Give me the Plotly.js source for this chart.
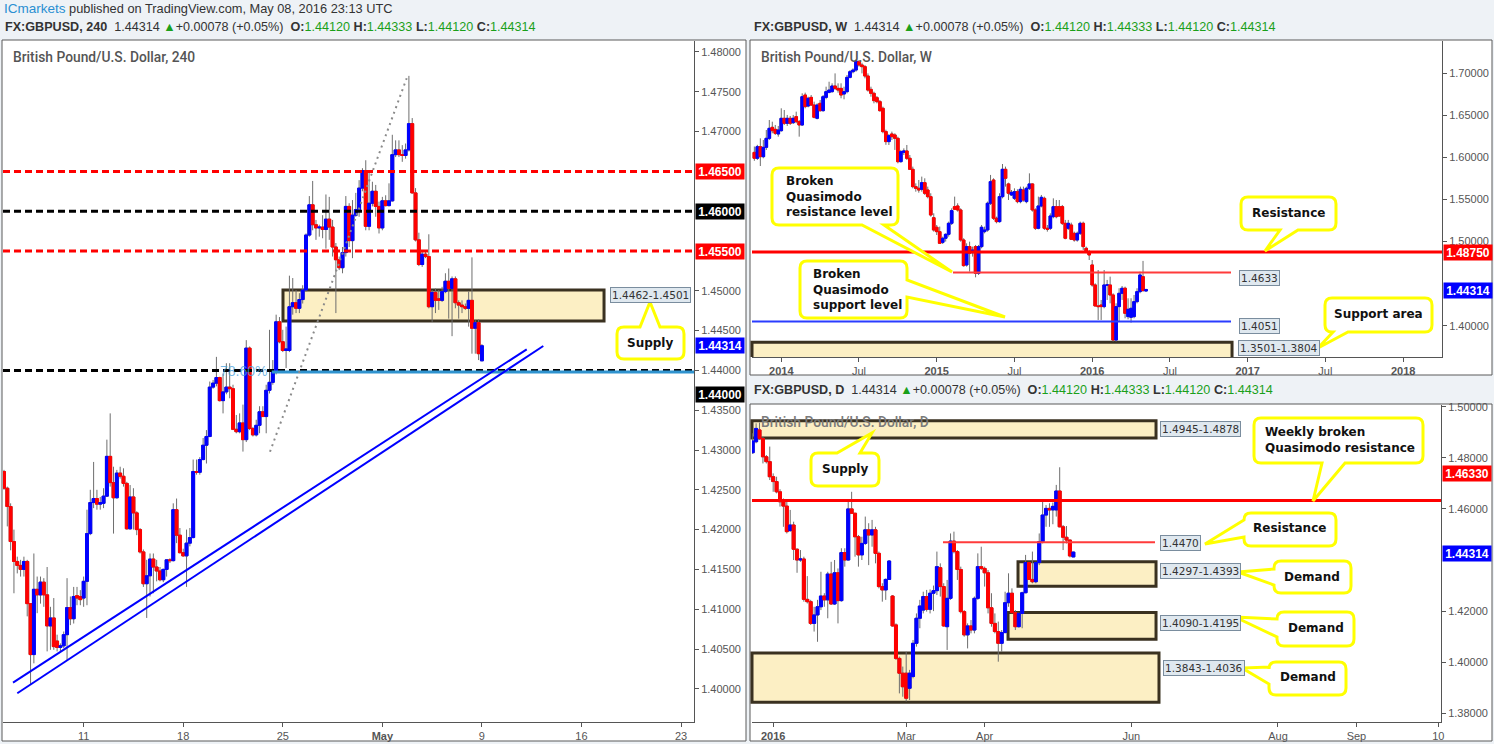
<!DOCTYPE html>
<html><head><meta charset="utf-8">
<script src="https://cdn.plot.ly/plotly-3.0.1.min.js"></script>
<style>html,body{margin:0;padding:0;background:#eef2f6;overflow:hidden}#chart{width:1494px;height:744px}</style>
</head><body><div id="chart"></div>
<script>
// ---------------- DATA ----------------
// 4-hour GBPUSD candles
const h4Open = [1.4273,1.4252,1.4229,1.4185,1.4160,1.4155,1.4150,1.4160,1.4107,1.4043,
1.4125,1.4118,1.4134,1.4118,1.4079,1.4089,1.4060,1.4052,1.4054,1.4068,
1.4102,1.4088,1.4117,1.4116,1.4114,1.4135,1.4195,1.4234,1.4239,1.4232,
1.4233,1.4242,1.4292,1.4259,1.4240,1.4271,1.4267,1.4258,1.4201,1.4241,
1.4221,1.4200,1.4172,1.4132,1.4142,1.4163,1.4153,1.4148,1.4137,1.4150,
1.4162,1.4161,1.4225,1.4193,1.4171,1.4167,1.4183,1.4190,1.4273,1.4272,
1.4288,1.4306,1.4317,1.4379,1.4384,1.4391,1.4362,1.4373,1.4379,1.4377,
1.4326,1.4323,1.4334,1.4313,1.4428,1.4327,1.4319,1.4331,1.4348,1.4342,
1.4375,1.4385,1.4398,
1.4461,1.4436,1.4425,1.4425,1.4480,1.4485,1.4478,1.4489,1.4501,1.4570,
1.4608,1.4583,1.4579,1.4580,1.4577,1.4590,1.4580,1.4555,1.4539,1.4529,
1.4548,1.4606,1.4563,1.4595,1.4602,1.4629,1.4651,1.4581,1.4610,1.4625,
1.4606,
1.4579,1.4613,1.4607,1.4613,1.4671,1.4677,1.4671,1.4670,1.4677,1.4710,
1.4623,1.4564,1.4533,1.4546,1.4543,1.4480,1.4498,1.4490,1.4488,1.4499,
1.4512,1.4503,1.4515,1.4485,1.4482,1.4480,1.4478,1.4488,1.4453,1.4460,1.4412];
const h4High = [1.4275,1.4254,1.4233,1.4200,1.4166,1.4162,1.4166,1.4162,1.4107,1.4170,
1.4141,1.4141,1.4139,1.4153,1.4103,1.4114,1.4068,1.4057,1.4072,1.4139,
1.4116,1.4128,1.4128,1.4124,1.4141,1.4225,1.4250,1.4285,1.4250,1.4241,
1.4252,1.4313,1.4346,1.4279,1.4275,1.4279,1.4277,1.4260,1.4256,1.4252,
1.4223,1.4202,1.4175,1.4162,1.4170,1.4170,1.4162,1.4153,1.4151,1.4162,
1.4164,1.4233,1.4239,1.4202,1.4176,1.4200,1.4202,1.4288,1.4288,1.4291,
1.4315,1.4325,1.4386,1.4388,1.4417,1.4392,1.4396,1.4409,1.4409,1.4382,
1.4344,1.4346,1.4357,1.4438,1.4430,1.4329,1.4338,1.4355,1.4355,1.4382,
1.4451,1.4413,1.4470,
1.4467,1.4451,1.4455,1.4519,1.4516,1.4501,1.4497,1.4507,1.4572,1.4619,
1.4638,1.4589,1.4583,1.4595,1.4621,1.4618,1.4589,1.4560,1.4543,1.4555,
1.4619,1.4610,1.4614,1.4623,1.4639,1.4654,1.4664,1.4648,1.4637,1.4633,
1.4612,
1.4618,1.4620,1.4635,1.4696,1.4689,1.4689,1.4683,1.4685,1.4770,1.4717,
1.4629,1.4573,1.4549,1.4549,1.4571,1.4501,1.4503,1.4501,1.4505,1.4522,
1.4528,1.4518,1.4518,1.4488,1.4488,1.4484,1.4499,1.4542,1.4463,1.4464,1.4433];
const h4Low = [1.4250,1.4204,1.4174,1.4120,1.4145,1.4141,1.4141,1.4091,1.4005,1.4032,
1.4095,1.4107,1.4103,1.4047,1.4049,1.4049,1.4047,1.4047,1.4051,1.4036,
1.4080,1.4082,1.4105,1.4105,1.4103,1.4105,1.4193,1.4227,1.4225,1.4225,
1.4227,1.4241,1.4254,1.4195,1.4239,1.4264,1.4254,1.4200,1.4200,1.4200,
1.4193,1.4170,1.4128,1.4089,1.4116,1.4120,1.4135,1.4135,1.4134,1.4141,
1.4158,1.4160,1.4183,1.4170,1.4166,1.4128,1.4179,1.4189,1.4269,1.4269,
1.4287,1.4283,1.4316,1.4377,1.4380,1.4361,1.4346,1.4370,1.4365,1.4325,
1.4321,1.4321,1.4298,1.4310,1.4325,1.4317,1.4317,1.4321,1.4342,1.4321,
1.4371,1.4382,1.4395,
1.4434,1.4423,1.4403,1.4423,1.4470,1.4472,1.4472,1.4484,1.4499,1.4568,
1.4576,1.4564,1.4568,1.4566,1.4553,1.4564,1.4543,1.4472,1.4526,1.4522,
1.4543,1.4555,1.4541,1.4593,1.4593,1.4625,1.4576,1.4576,1.4606,1.4593,
1.4572,
1.4576,1.4606,1.4606,1.4612,1.4668,1.4668,1.4662,1.4666,1.4675,1.4622,
1.4562,1.4531,1.4530,1.4541,1.4478,1.4461,1.4472,1.4476,1.4486,1.4497,
1.4465,1.4443,1.4478,1.4465,1.4472,1.4476,1.4455,1.4421,1.4421,1.4413,1.4412];
const h4Close = [1.4252,1.4229,1.4185,1.4160,1.4155,1.4150,1.4160,1.4107,1.4043,1.4125,
1.4118,1.4134,1.4118,1.4079,1.4089,1.4053,1.4052,1.4054,1.4068,1.4102,
1.4088,1.4116,1.4114,1.4112,1.4135,1.4195,1.4234,1.4239,1.4232,1.4234,
1.4242,1.4292,1.4259,1.4240,1.4271,1.4267,1.4258,1.4201,1.4241,1.4221,
1.4200,1.4172,1.4132,1.4142,1.4163,1.4153,1.4148,1.4137,1.4150,1.4162,
1.4161,1.4225,1.4193,1.4171,1.4167,1.4183,1.4190,1.4273,1.4272,1.4288,
1.4306,1.4317,1.4379,1.4384,1.4391,1.4362,1.4373,1.4379,1.4377,1.4326,
1.4323,1.4334,1.4313,1.4428,1.4327,1.4319,1.4331,1.4348,1.4342,1.4375,
1.4385,1.4398,1.4461,
1.4436,1.4425,1.4427,1.4480,1.4485,1.4478,1.4489,1.4501,1.4570,1.4608,
1.4583,1.4579,1.4580,1.4577,1.4590,1.4580,1.4555,1.4539,1.4529,1.4548,
1.4606,1.4563,1.4595,1.4602,1.4629,1.4651,1.4581,1.4610,1.4625,1.4606,
1.4579,
1.4613,1.4607,1.4613,1.4671,1.4677,1.4671,1.4670,1.4677,1.4710,1.4623,
1.4564,1.4533,1.4546,1.4543,1.4480,1.4498,1.4488,1.4488,1.4499,1.4512,
1.4503,1.4515,1.4485,1.4482,1.4480,1.4478,1.4488,1.4453,1.4460,1.4421,1.4431];
const h4TickBars = [24, 54, 84, 114, 144, 174, 204];
const h4TickLabels = ['11', '18', '25', '<b>May</b>', '9', '16', '23'];

// Weekly GBPUSD candles (last bar = week of 2016-05-09)
const wLastWeek = '2016-05-09';
const wOpen = [1.6060,1.5990,
1.6128,1.6009,1.6120,1.6227,1.6358,1.6334,1.6279,1.6318,1.6465,1.6406,
1.6465,1.6413,1.6485,1.6425,1.6386,1.6742,1.6611,1.6714,1.6623,1.6465,
1.6643,1.6556,1.6714,1.6774,1.6782,1.6849,1.6821,1.6821,1.6754,1.6782,
1.6952,1.7019,1.7039,1.7138,1.7099,1.7079,1.6968,1.6809,1.6762,1.6710,
1.6663,1.6584,1.6307,1.6188,1.6279,1.6267,1.6227,1.5950,1.6061,1.6077,1.5990,
1.5859,1.5653,1.5633,1.5621,1.5700,1.5613,1.5534,1.5284,1.5170,1.5118,
1.4991,1.5039,1.5086,1.5217,1.5415,1.5423,1.5376,1.5019,1.4722,1.4940,1.4868,
1.4940,1.4623,1.4940,1.5118,1.5138,1.5455,1.5732,1.5277,1.5237,1.5534,
1.5859,1.5685,1.5554,1.5514,1.5593,1.5475,1.5613,1.5475,1.5633,1.5685,
1.5376,1.5158,1.5423,1.5514,1.5158,1.5158,1.5296,1.5415,1.5415,1.5415,
1.5217,1.5158,1.5197,1.5098,1.5019,1.5098,1.5217,1.4920,1.4880,1.4722,
1.4484,1.4235,1.4246,1.4227,1.4484,1.4484,1.4365,1.3830,1.4227,1.4385,
1.4445,1.4108,1.4100,1.4108,1.4286,1.4405,1.4583,1.4412];
const wHigh = [1.6130,1.6150,
1.6227,1.6207,1.6326,1.6445,1.6425,1.6386,1.6374,1.6584,1.6564,1.6505,
1.6493,1.6505,1.6544,1.6445,1.6762,1.6770,1.6722,1.6742,1.6663,1.6643,
1.6683,1.6742,1.6841,1.6900,1.6881,1.6999,1.6881,1.6881,1.6841,1.6980,
1.7039,1.7059,1.7166,1.7158,1.7126,1.7099,1.6999,1.6841,1.6782,1.6730,
1.6683,1.6604,1.6330,1.6279,1.6307,1.6287,1.6247,1.6089,1.6108,1.6148,1.6029,
1.5891,1.5692,1.5732,1.5772,1.5752,1.5653,1.5574,1.5336,1.5197,1.5178,
1.5059,1.5098,1.5237,1.5395,1.5534,1.5455,1.5395,1.5039,1.4979,1.4999,1.4940,
1.4960,1.4960,1.5197,1.5178,1.5475,1.5792,1.5752,1.5296,1.5574,1.5922,
1.5891,1.5700,1.5613,1.5633,1.5621,1.5653,1.5653,1.5653,1.5811,1.5692,
1.5395,1.5534,1.5554,1.5534,1.5197,1.5336,1.5514,1.5494,1.5494,1.5435,
1.5257,1.5257,1.5225,1.5118,1.5118,1.5237,1.5237,1.4940,1.4900,1.4781,
1.4504,1.4662,1.4306,1.4662,1.4544,1.4583,1.4385,1.4266,1.4445,1.4472,
1.4464,1.4326,1.4326,1.4365,1.4445,1.4643,1.4770,1.4433];
const wLow = [1.5960,1.5970,
1.5898,1.5990,1.6089,1.6207,1.6287,1.6267,1.6247,1.6307,1.6386,1.6374,
1.6386,1.6398,1.6406,1.6247,1.6374,1.6584,1.6596,1.6611,1.6465,1.6453,
1.6544,1.6544,1.6691,1.6762,1.6770,1.6801,1.6770,1.6703,1.6691,1.6762,
1.6940,1.6999,1.7019,1.7079,1.6999,1.6940,1.6782,1.6722,1.6643,1.6643,
1.6544,1.6287,1.6150,1.6148,1.6207,1.6089,1.5930,1.5938,1.6029,1.5970,1.5851,
1.5633,1.5593,1.5581,1.5593,1.5554,1.5514,1.5296,1.5118,1.5078,1.4971,
1.4971,1.5000,1.5059,1.5197,1.5376,1.5356,1.4999,1.4702,1.4702,1.4643,1.4821,
1.4575,1.4603,1.4920,1.5098,1.5118,1.5435,1.5257,1.5217,1.5225,1.5514,
1.5653,1.5494,1.5542,1.5494,1.5455,1.5455,1.5475,1.5455,1.5613,1.5356,
1.5138,1.5146,1.5407,1.5138,1.5118,1.5138,1.5277,1.5277,1.5296,1.5197,
1.5027,1.5138,1.5019,1.4999,1.4999,1.5078,1.4900,1.4861,1.4781,1.4464,
1.4227,1.4068,1.4068,1.4207,1.4306,1.4266,1.3811,1.3811,1.4048,1.4306,
1.4088,1.4076,1.4036,1.4088,1.4266,1.4385,1.4405,1.4412];
const wClose = [1.5990,1.6128,
1.6009,1.6120,1.6227,1.6346,1.6318,1.6287,1.6326,1.6465,1.6406,1.6465,
1.6406,1.6465,1.6425,1.6386,1.6722,1.6604,1.6703,1.6623,1.6477,1.6623,
1.6556,1.6722,1.6782,1.6801,1.6849,1.6821,1.6801,1.6742,1.6782,1.6952,
1.7019,1.7039,1.7146,1.7099,1.7079,1.6968,1.6801,1.6762,1.6675,1.6663,
1.6556,1.6307,1.6188,1.6259,1.6247,1.6227,1.5950,1.6069,1.6077,1.5990,1.5859,
1.5653,1.5633,1.5613,1.5700,1.5574,1.5534,1.5316,1.5138,1.5118,1.4979,
1.5039,1.5086,1.5217,1.5368,1.5384,1.5376,1.5019,1.4714,1.4940,1.4861,1.4900,
1.4623,1.4940,1.5170,1.5138,1.5455,1.5712,1.5277,1.5237,1.5534,1.5859,
1.5752,1.5574,1.5585,1.5593,1.5475,1.5621,1.5494,1.5633,1.5685,1.5376,
1.5158,1.5423,1.5526,1.5158,1.5146,1.5304,1.5415,1.5296,1.5304,1.5217,
1.5039,1.5217,1.5027,1.5019,1.5098,1.5217,1.4940,1.4880,1.4841,1.4484,
1.4235,1.4227,1.4227,1.4484,1.4484,1.4365,1.3830,1.4227,1.4385,1.4445,
1.4147,1.4195,1.4207,1.4286,1.4405,1.4603,1.4417,1.4431];
const wTickDates = ['2014-01-06','2014-07-07','2015-01-05','2015-07-06','2016-01-04','2016-07-04','2017-01-02','2017-07-03','2018-01-01'];
const wTickLabels = ['<b>2014</b>','Jul','<b>2015</b>','Jul','<b>2016</b>','Jul','<b>2017</b>','Jul','<b>2018</b>'];

// Daily GBPUSD candles (last bar = 2016-05-09)
const dLastDay = '2016-05-09';
const dOpen = [1.4820,1.4863,1.4909,1.4876,1.4804,1.4785,1.4726,1.4707,1.4667,1.4628,
1.4611,1.4515,1.4537,1.4442,1.4400,1.4404,1.4246,1.4237,1.4152,1.4185,
1.4217,1.4259,1.4244,1.4345,1.4228,1.4350,1.4241,1.4429,1.4400,1.4600,
1.4583,1.4491,1.4420,1.4465,1.4518,1.4498,1.4518,1.4426,1.4296,1.4283,
1.4324,1.4259,1.4146,1.4015,1.3957,1.3957,1.3898,1.3944,1.4074,1.4172,
1.4204,1.4257,1.4207,1.4270,1.4280,1.4370,1.4296,1.4139,1.4250,1.4474,1.4433,
1.4363,1.4198,1.4107,1.4142,1.4126,1.4250,1.4374,1.4367,1.4350,1.4213,
1.4152,1.4120,1.4074,1.4116,1.4233,1.4270,1.4194,1.4139,1.4191,1.4272,
1.4390,1.4324,1.4315,1.4390,1.4472,1.4576,1.4602,1.4596,1.4596,1.4670,1.4530,
1.4489,1.4478,1.4412];
const dHigh = [1.4896,1.4935,1.4938,1.4883,1.4811,1.4844,1.4739,1.4726,1.4677,1.4641,
1.4628,1.4596,1.4550,1.4446,1.4439,1.4413,1.4337,1.4244,1.4217,1.4244,
1.4354,1.4270,1.4354,1.4393,1.4400,1.4367,1.4446,1.4446,1.4628,1.4667,
1.4585,1.4498,1.4491,1.4570,1.4544,1.4557,1.4530,1.4433,1.4309,1.4328,
1.4400,1.4263,1.4152,1.4022,1.3983,1.4041,1.3970,1.4087,1.4191,1.4244,
1.4276,1.4283,1.4285,1.4300,1.4433,1.4387,1.4309,1.4322,1.4504,1.4511,1.4439,
1.4374,1.4204,1.4152,1.4165,1.4257,1.4426,1.4452,1.4374,1.4361,1.4270,
1.4191,1.4159,1.4126,1.4276,1.4348,1.4289,1.4204,1.4194,1.4276,1.4420,
1.4393,1.4433,1.4393,1.4504,1.4635,1.4615,1.4622,1.4625,1.4694,1.4763,1.4537,
1.4533,1.4480,1.4433];
const dLow = [1.4815,1.4857,1.4870,1.4778,1.4778,1.4713,1.4667,1.4661,1.4609,1.4530,
1.4504,1.4511,1.4400,1.4350,1.4393,1.4237,1.4230,1.4146,1.4120,1.4080,
1.4204,1.4217,1.4172,1.4224,1.4224,1.4152,1.4237,1.4374,1.4398,1.4580,
1.4413,1.4374,1.4400,1.4459,1.4380,1.4452,1.4387,1.4289,1.4237,1.4244,
1.4322,1.4139,1.4009,1.3878,1.3865,1.3846,1.3852,1.3937,1.4061,1.4133,
1.4191,1.4198,1.4191,1.4200,1.4263,1.4257,1.4139,1.4048,1.4244,1.4426,1.4322,
1.4191,1.4100,1.4054,1.4113,1.4113,1.4244,1.4361,1.4296,1.4191,1.4139,
1.4113,1.4002,1.4041,1.4113,1.4217,1.4191,1.4126,1.4136,1.4133,1.4270,
1.4322,1.4309,1.4309,1.4380,1.4465,1.4530,1.4530,1.4540,1.4570,1.4528,1.4439,
1.4465,1.4410,1.4412];
const dClose = [1.4866,1.4915,1.4876,1.4804,1.4785,1.4726,1.4707,1.4667,1.4628,1.4611,
1.4511,1.4537,1.4442,1.4400,1.4404,1.4246,1.4237,1.4152,1.4185,1.4217,
1.4259,1.4244,1.4345,1.4228,1.4350,1.4241,1.4429,1.4400,1.4600,1.4583,
1.4491,1.4420,1.4465,1.4518,1.4498,1.4518,1.4426,1.4296,1.4283,1.4324,
1.4396,1.4142,1.4015,1.3957,1.3904,1.3859,1.3957,1.4074,1.4172,1.4220,
1.4257,1.4207,1.4270,1.4280,1.4374,1.4296,1.4142,1.4250,1.4474,1.4433,1.4363,
1.4198,1.4107,1.4142,1.4126,1.4250,1.4374,1.4367,1.4350,1.4213,1.4152,
1.4120,1.4074,1.4116,1.4233,1.4270,1.4194,1.4139,1.4191,1.4272,1.4390,
1.4324,1.4315,1.4390,1.4472,1.4576,1.4602,1.4596,1.4610,1.4670,1.4530,1.4489,
1.4478,1.4416,1.4431];
const dTickDates = ['2016-01-06','2016-03-01','2016-04-01','2016-06-01','2016-08-01','2016-09-01','2016-10-05'];
const dTickLabels = ['<b>2016</b>','Mar','Apr','Jun','Aug','Sep','10'];

// Header quote
const symbol = 'FX:GBPUSD';
const lastPrice = '1.44314', change = '+0.00078 (+0.05%)';
const quoteO = '1.44120', quoteH = '1.44333', quoteL = '1.44120', quoteC = '1.44314';

// Drawn levels / zones
const h4RedLevels = [1.4650, 1.4550];
const h4BlackLevels = [1.4600, 1.4400];
const h4FibLevel = 1.4398;
const h4Supply = [1.4462, 1.4501];
const wResistance = 1.4875, wBrokenRes = 1.4633, wBrokenSup = 1.4051;
const wSupport = [1.3501, 1.3804];
const dWeeklyRes = 1.4633, dResistance = 1.4470;
const dSupply = [1.4878, 1.4945];
const dDemand1 = [1.4297, 1.4393], dDemand2 = [1.4090, 1.4195], dDemand3 = [1.3843, 1.4036];
// price-axis labels hidden behind the coloured price tags
const h4HiddenTicks = [1.455, 1.46, 1.465], wHiddenTicks = [1.45], dHiddenTicks = [1.44];

// ---------------- HELPERS ----------------
const W = 1494, H = 744;
const PX = p => p / W, PY = p => 1 - p / H;
const UP = '#0000ff', DOWN = '#ff0000', WICK = '#6e6e6e';

function weeksBack(lastISO, n) {
  const t0 = new Date(lastISO + 'T00:00:00Z').getTime(), out = [];
  for (let i = n - 1; i >= 0; i--) out.push(new Date(t0 - i * 7 * 86400000).toISOString().slice(0, 10));
  return out;
}
function weekdaysBack(lastISO, n) {
  const out = []; let t = new Date(lastISO + 'T00:00:00Z');
  while (out.length < n) {
    const wd = t.getUTCDay();
    if (wd !== 0 && wd !== 6) out.unshift(t.toISOString().slice(0, 10));
    t = new Date(t.getTime() - 86400000);
  }
  return out;
}
function priceTicks(lo, hi, step, hidden) {
  const out = [];
  for (let v = lo; v <= hi + 1e-9; v += step) {
    const r = +v.toFixed(4);
    if (!hidden.some(h => Math.abs(h - r) < 1e-6)) out.push(r);
  }
  return out;
}
function candles(x, o, h, l, c, xa, ya) {
  const bHi = o.map((v, i) => Math.max(v, c[i])), bLo = o.map((v, i) => Math.min(v, c[i]));
  const wick = {type: 'candlestick', x, open: o, high: h, low: l, close: c, xaxis: xa, yaxis: ya,
    increasing: {line: {color: WICK, width: 1}, fillcolor: WICK},
    decreasing: {line: {color: WICK, width: 1}, fillcolor: WICK}, whiskerwidth: 0, hoverinfo: 'skip', showlegend: false};
  const body = {type: 'candlestick', x, open: o, high: bHi, low: bLo, close: c, xaxis: xa, yaxis: ya,
    increasing: {line: {color: UP, width: 1}, fillcolor: UP},
    decreasing: {line: {color: DOWN, width: 1}, fillcolor: DOWN}, whiskerwidth: 0, hoverinfo: 'skip', showlegend: false};
  return [wick, body];
}

const h4X = h4Open.map((_, i) => i);
const wX = weeksBack(wLastWeek, wOpen.length);
const dX = weekdaysBack(dLastDay, dOpen.length);

const data = [
  ...candles(h4X, h4Open, h4High, h4Low, h4Close, 'x', 'y'),
  ...candles(wX, wOpen, wHigh, wLow, wClose, 'x2', 'y2'),
  ...candles(dX, dOpen, dHigh, dLow, dClose, 'x3', 'y3')
];

// ---------------- SHAPES ----------------
const DASH = '7px,4px';
const ZONE_FILL = '#fcefc4', ZONE_LINE = '#3a3120';
const shapes = [];
[[2, 40, 746, 741], [750, 40, 1492, 375], [750, 404, 1492, 741]].forEach(r => shapes.push({
  type: 'rect', xref: 'paper', yref: 'paper', x0: PX(r[0]), x1: PX(r[2]), y0: PY(r[3]), y1: PY(r[1]),
  fillcolor: '#ffffff', line: {color: '#5a5a5a', width: 1}, layer: 'below'}));

function hline(xr, yr, y, color, width, dash, x0 = 0, x1 = 1, layer = 'above') {
  shapes.push({type: 'line', xref: xr, yref: yr, x0, x1, y0: y, y1: y, line: {color, width, dash: dash || 'solid'}, layer});
}
function zone(xr, yr, z, x0, x1) {
  shapes.push({type: 'rect', xref: xr, yref: yr, x0, x1, y0: z[0], y1: z[1], fillcolor: ZONE_FILL, line: {color: ZONE_LINE, width: 3}, layer: 'below'});
}
// 4H
zone('x domain', 'y', h4Supply, 0.4052, 0.8698);
h4RedLevels.forEach(v => hline('x domain', 'y', v, '#ff0000', 3, DASH));
h4BlackLevels.forEach(v => hline('x domain', 'y', v, '#000000', 3, DASH));
hline('x domain', 'y', h4FibLevel, '#2f93cf', 3, null, 0.389, 1);
shapes.push({type: 'line', xref: 'x domain', yref: 'y', x0: 0.0145, y0: 1.40077, x1: 0.7579, y1: 1.44265, line: {color: '#0000ff', width: 2}});
shapes.push({type: 'line', xref: 'x domain', yref: 'y', x0: 0.0207, y0: 1.39944, x1: 0.7819, y1: 1.44307, line: {color: '#0000ff', width: 2}});
shapes.push({type: 'line', xref: 'x domain', yref: 'y', x0: 0.3864, y0: 1.42978, x1: 0.5842, y1: 1.47670, line: {color: '#8a8a8a', width: 2, dash: '2px,4px'}});
// Weekly
zone('x2 domain', 'y2', wSupport, 0, 0.6957);
hline('x2 domain', 'y2', wResistance, '#ff0000', 3);
hline('x2 domain', 'y2', wBrokenRes, '#ff3b3b', 2, null, 0.2913, 0.6942);
hline('x2 domain', 'y2', wBrokenSup, '#2a3cff', 2, null, 0, 0.6942);
// Daily
zone('x3 domain', 'y3', dSupply, 0, 0.5864);
zone('x3 domain', 'y3', dDemand1, 0.3861, 0.5864);
zone('x3 domain', 'y3', dDemand2, 0.3716, 0.5864);
zone('x3 domain', 'y3', dDemand3, 0, 0.5907);
hline('x3 domain', 'y3', dWeeklyRes, '#ff0000', 3);
hline('x3 domain', 'y3', dResistance, '#ff3b3b', 2, null, 0.2772, 0.5849);

function callout(x0, y0, x1, y1, side, b0, b1, tx, ty) {
  const r = 7, P = (x, y) => PX(x).toFixed(5) + ',' + PY(y).toFixed(5);
  let d = 'M' + P(x0 + r, y0);
  if (side === 'top') d += ' L' + P(b0, y0) + ' L' + P(tx, ty) + ' L' + P(b1, y0);
  d += ' L' + P(x1 - r, y0) + ' Q' + P(x1, y0) + ' ' + P(x1, y0 + r);
  if (side === 'right') d += ' L' + P(x1, b0) + ' L' + P(tx, ty) + ' L' + P(x1, b1);
  d += ' L' + P(x1, y1 - r) + ' Q' + P(x1, y1) + ' ' + P(x1 - r, y1);
  if (side === 'bottom') d += ' L' + P(b1, y1) + ' L' + P(tx, ty) + ' L' + P(b0, y1);
  d += ' L' + P(x0 + r, y1) + ' Q' + P(x0, y1) + ' ' + P(x0, y1 - r);
  if (side === 'left') d += ' L' + P(x0, b1) + ' L' + P(tx, ty) + ' L' + P(x0, b0);
  d += ' L' + P(x0, y0 + r) + ' Q' + P(x0, y0) + ' ' + P(x0 + r, y0) + ' Z';
  shapes.push({type: 'path', xref: 'paper', yref: 'paper', path: d, fillcolor: '#ffffff', line: {color: '#ffff00', width: 3}, layer: 'above'});
}
callout(617, 327, 684, 359, 'top', 640, 660, 650, 302);
callout(772, 168, 898, 225, 'bottom', 862, 884, 952, 272);
callout(800, 261, 907, 318, 'right', 280, 297, 1005, 317);
callout(1241, 197, 1336, 230, 'bottom', 1280, 1298, 1265, 251);
callout(1325, 298, 1432, 332, 'bottom', 1333, 1348, 1318, 348);
callout(811, 453, 879, 486, 'top', 837, 860, 872, 433);
callout(1254, 418, 1423, 463, 'bottom', 1322, 1345, 1313, 501);
callout(1244, 513, 1336, 546, 'left', 520, 537, 1205, 544);
callout(1274, 561, 1351, 593, 'left', 569, 585, 1238, 572);
callout(1277, 612, 1354, 646, 'left', 619, 637, 1235, 617);
callout(1269, 662, 1346, 695, 'left', 667, 684, 1242, 668);

// ---------------- ANNOTATIONS ----------------
const ann = [];
const FONT = 'Liberation Sans, Arial, sans-serif';
function txt(text, px, py, opts = {}) {
  ann.push(Object.assign({xref: 'paper', yref: 'paper', x: PX(px), y: PY(py), text, showarrow: false,
    xanchor: 'left', yanchor: 'middle', font: {family: FONT, size: 12.6, color: '#333'}}, opts));
}
const G = s => '<span style="color:#1aa01a">' + s + '</span>';
function quoteLine(tf) {
  return '<b>' + symbol + ', ' + tf + '</b>  ' + lastPrice + ' ' + G('▲') + change +
    '  <b>O:</b>' + G(quoteO) + ' <b>H:</b>' + G(quoteH) + ' <b>L:</b>' + G(quoteL) + ' <b>C:</b>' + G(quoteC);
}
txt('<span style="color:#2a8fd2;font-size:13.5px">ICmarkets</span> published on TradingView.com, May 08, 2016 23:13 UTC', 2, 9, {font: {family: FONT, size: 12.8, color: '#333'}});
txt(quoteLine('240'), 3, 27);
txt(quoteLine('W'), 752, 27);
txt(quoteLine('D'), 752, 390);
const TFONT = {family: 'Roboto, Liberation Sans, sans-serif', size: 13.8, color: '#555', weight: 500};
txt('British Pound/U.S. Dollar, 240', 11, 57, {font: TFONT});
txt('British Pound/U.S. Dollar, W', 759, 57, {font: TFONT});
txt('British Pound/U.S. Dollar, D', 759, 422, {font: Object.assign({}, TFONT, {color: '#7a7a7a'})});
txt('78.60%', 218, 371, {font: {family: FONT, size: 14, color: 'rgba(70,160,220,0.75)'}});

function tag(text, color, px, py) {
  txt('<b>' + text + '</b>', px, py, {bgcolor: color, font: {family: FONT, size: 12, color: '#ffffff'}, width: 46, height: 13, borderpad: 1, align: 'center'});
}
tag('1.46500', '#ff0000', 695, 171.5);
tag('1.46000', '#000000', 695, 211.7);
tag('1.45500', '#ff0000', 695, 251.7);
tag('1.44314', '#0000ff', 695, 345.7);
tag('1.44000', '#000000', 695, 394);
tag('1.48750', '#ff0000', 1443, 252.3);
tag('1.44314', '#0000ff', 1443, 290);
tag('1.46330', '#ff0000', 1442, 473.3);
tag('1.44314', '#0000ff', 1442, 553.3);

function vlabel(text, cx, cy) {
  ann.push({xref: 'paper', yref: 'paper', x: PX(cx), y: PY(cy), text, showarrow: false, xanchor: 'center', yanchor: 'middle',
    bgcolor: '#dfe8ef', bordercolor: '#7a8d9e', borderwidth: 1, borderpad: 1,
    font: {family: 'DejaVu Sans, sans-serif', size: 10.5, color: '#333'}});
}
vlabel(h4Supply[0].toFixed(4) + '-' + h4Supply[1].toFixed(4), 650, 295);
vlabel(wBrokenRes.toFixed(4), 1259, 277.7);
vlabel(wBrokenSup.toFixed(4), 1259, 326);
vlabel(wSupport[0].toFixed(4) + '-' + wSupport[1].toFixed(4), 1279, 348);
vlabel(dSupply[1].toFixed(4) + '-' + dSupply[0].toFixed(4), 1200, 429);
vlabel(dResistance.toFixed(4), 1180, 543.3);
vlabel(dDemand1[0].toFixed(4) + '-' + dDemand1[1].toFixed(4), 1200, 571);
vlabel(dDemand2[0].toFixed(4) + '-' + dDemand2[1].toFixed(4), 1200, 623.3);
vlabel(dDemand3[0].toFixed(4) + '-' + dDemand3[1].toFixed(4), 1204, 667.7);

const CF = {family: 'DejaVu Sans, sans-serif', size: 12, color: '#111'};
function ctext(lines, px, py, anchor) {
  ann.push({xref: 'paper', yref: 'paper', x: PX(px), y: PY(py), text: lines.map(s => '<b>' + s + '</b>').join('<br>'), showarrow: false,
    xanchor: anchor || 'center', yanchor: 'middle', align: anchor === 'left' ? 'left' : 'center', font: CF});
}
ctext(['Supply'], 650, 343);
ctext(['Broken', 'Quasimodo', 'resistance level'], 784, 196.5, 'left');
ctext(['Broken', 'Quasimodo', 'support level'], 811, 289, 'left');
ctext(['Resistance'], 1288, 213);
ctext(['Support area'], 1378, 314);
ctext(['Supply'], 845, 469);
ctext(['Weekly broken', 'Quasimodo resistance'], 1263, 440, 'left');
ctext(['Resistance'], 1289, 528);
ctext(['Demand'], 1312, 577);
ctext(['Demand'], 1316, 628);
ctext(['Demand'], 1308, 677);

// ---------------- LAYOUT ----------------
const TICKF = {family: FONT, size: 11, color: '#555'};
const axBase = {showgrid: false, zeroline: false, showline: true, linecolor: '#555', linewidth: 1, ticks: 'outside', ticklen: 4, tickcolor: '#555', tickfont: TICKF, fixedrange: true};
const layout = {
  width: W, height: H, margin: {l: 0, r: 0, t: 0, b: 0},
  paper_bgcolor: '#eef2f6', plot_bgcolor: '#ffffff', showlegend: false, hovermode: false,
  boxgap: 0.12, boxgroupgap: 0, font: {family: FONT},
  xaxis: Object.assign({}, axBase, {type: 'linear', domain: [PX(3), PX(694)], anchor: 'y', range: [-0.3, 207.9],
    tickmode: 'array', tickvals: h4TickBars, ticktext: h4TickLabels, rangeslider: {visible: false}}),
  yaxis: Object.assign({}, axBase, {domain: [PY(722), PY(41)], anchor: 'x', side: 'right', range: [1.39583, 1.48138],
    tickmode: 'array', tickvals: priceTicks(1.40, 1.48, 0.005, h4HiddenTicks), tickformat: '.5f'}),
  xaxis2: Object.assign({}, axBase, {type: 'date', domain: [PX(752), PX(1442)], anchor: 'y2', range: ['2013-10-29 12:00', '2018-04-02'],
    tickmode: 'array', tickvals: wTickDates, ticktext: wTickLabels, rangeslider: {visible: false}}),
  yaxis2: Object.assign({}, axBase, {domain: [PY(357), PY(41)], anchor: 'x2', side: 'right', range: [1.3628, 1.7384],
    tickmode: 'array', tickvals: priceTicks(1.40, 1.70, 0.05, wHiddenTicks), tickformat: '.5f'}),
  xaxis3: Object.assign({}, axBase, {type: 'date', domain: [PX(752), PX(1441)], anchor: 'y3', range: ['2015-12-28 19:00', '2016-10-05 19:00'],
    rangebreaks: [{bounds: ['sat', 'mon']}], tickmode: 'array', tickvals: dTickDates, ticktext: dTickLabels, rangeslider: {visible: false}}),
  yaxis3: Object.assign({}, axBase, {domain: [PY(722), PY(405)], anchor: 'x3', side: 'right', range: [1.3766, 1.50067],
    tickmode: 'array', tickvals: priceTicks(1.38, 1.50, 0.02, dHiddenTicks), tickformat: '.5f'}),
  shapes, annotations: ann
};
Plotly.newPlot('chart', data, layout, {staticPlot: true, displayModeBar: false});
</script></body></html>
